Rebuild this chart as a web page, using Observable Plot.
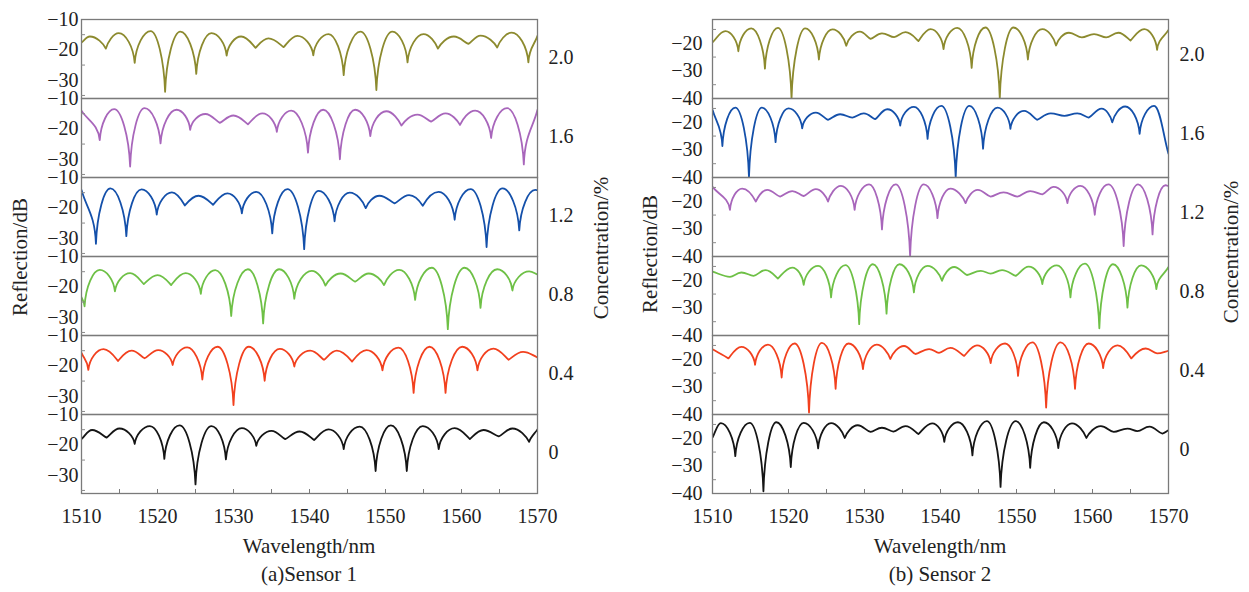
<!DOCTYPE html>
<html><head><meta charset="utf-8">
<script src="https://cdn.jsdelivr.net/npm/d3@7"></script>
<script src="https://cdn.jsdelivr.net/npm/@observablehq/plot@0.6"></script>
<style>
body{margin:0;background:#fff;}
#wrap{position:relative;width:1249px;height:592px;font-family:"Liberation Serif","DejaVu Serif","Times New Roman",serif;color:#222;overflow:hidden;}
.p{position:absolute;top:0;}
.t{position:absolute;font-size:21px;white-space:nowrap;transform:translate(-50%,-50%);line-height:1;}
.r{transform:translate(-50%,-50%) rotate(-90deg);}
</style></head>
<body><div id="wrap"></div>
<script>
// ---------- data: [wavelength nm, reflection dB] ----------
const concLabels = ["2.0", "1.6", "1.2", "0.8", "0.4", "0"];
const xMajor = [1510, 1520, 1530, 1540, 1550, 1560, 1570];
const xMinor = [1515, 1525, 1535, 1545, 1555, 1565];

// Sensor 1
const s1_20 = [[1510,-17.6],[1511.1,-15.6],[1513.2,-19.6],[1514.9,-14.5],[1517.0,-24.3],[1519.1,-13.8],[1521.0,-33.8],[1523.0,-14.0],[1525.1,-27.9],[1527.1,-14.5],[1529.1,-21.9],[1531.0,-15.6],[1532.9,-19.3],[1534.6,-16.2],[1536.6,-19.1],[1538.4,-15.4],[1540.5,-21.8],[1542.5,-14.8],[1544.5,-28.3],[1546.7,-14.0],[1548.8,-33.2],[1550.9,-14.0],[1552.9,-24.1],[1555.0,-14.8],[1556.9,-19.6],[1559.0,-15.6],[1560.9,-18.0],[1562.5,-15.3],[1564.7,-19.2],[1566.6,-14.3],[1568.8,-24.1],[1570,-15.4]];
const s1_16 = [[1510,-14.0],[1512.4,-23.7],[1514.3,-13.5],[1516.4,-32.4],[1518.3,-13.2],[1520.4,-24.8],[1522.5,-13.7],[1524.3,-20.3],[1526.3,-15.1],[1528.2,-18.0],[1530.0,-15.6],[1531.9,-18.5],[1533.8,-14.9],[1535.7,-21.0],[1537.6,-14.0],[1539.8,-27.8],[1541.8,-13.7],[1544.0,-30.0],[1546.0,-13.7],[1548.0,-22.4],[1550.1,-14.2],[1552.1,-18.9],[1554.2,-15.3],[1556.0,-17.6],[1557.9,-14.9],[1559.8,-18.7],[1561.8,-14.0],[1563.9,-23.0],[1566.0,-13.2],[1568.2,-31.7],[1570,-13.7]];
const s1_12 = [[1510,-14.1],[1511.9,-31.8],[1513.8,-13.6],[1515.9,-29.3],[1517.9,-13.9],[1519.9,-22.2],[1521.9,-14.9],[1523.6,-19.2],[1525.4,-16.0],[1527.3,-19.0],[1529.2,-15.2],[1531.1,-21.8],[1533.0,-14.7],[1535.1,-28.4],[1537.1,-13.8],[1539.3,-33.6],[1541.2,-14.4],[1543.3,-24.4],[1545.3,-15.0],[1547.4,-20.1],[1549.2,-16.0],[1551.2,-18.5],[1553.1,-15.8],[1554.9,-19.3],[1557.0,-14.7],[1559.1,-23.9],[1561.2,-13.8],[1563.3,-32.9],[1565.4,-13.6],[1567.6,-27.4],[1569.7,-14.1],[1570,-14.2]];
const s1_08 = [[1510,-23.4],[1510.4,-26.4],[1512.4,-14.4],[1514.4,-21.5],[1516.4,-15.5],[1518.2,-19.1],[1520.0,-16.1],[1521.8,-19.4],[1523.7,-15.5],[1525.7,-22.3],[1527.6,-14.5],[1529.7,-29.6],[1531.9,-14.2],[1533.9,-32.0],[1536.0,-14.2],[1538.0,-23.9],[1540.3,-14.7],[1542.1,-19.6],[1544.1,-15.6],[1546.0,-18.3],[1547.8,-15.6],[1549.8,-19.4],[1551.8,-14.4],[1553.9,-24.3],[1556.1,-13.7],[1558.2,-33.9],[1560.4,-13.7],[1562.5,-26.9],[1564.7,-14.2],[1566.7,-21.2],[1568.9,-14.9],[1570,-15.9]];
const s1_04 = [[1510,-15.7],[1510.9,-21.3],[1512.9,-14.5],[1514.8,-18.4],[1516.6,-15.0],[1518.3,-17.5],[1520.1,-14.8],[1522.0,-19.7],[1523.9,-13.9],[1525.9,-24.5],[1527.9,-13.7],[1530.0,-32.9],[1532.0,-13.7],[1534.1,-24.9],[1536.1,-14.4],[1538.0,-20.2],[1540.1,-15.0],[1541.9,-18.0],[1543.6,-15.0],[1545.6,-18.6],[1547.5,-14.8],[1549.6,-21.5],[1551.7,-14.0],[1553.7,-28.9],[1555.8,-13.7],[1557.9,-28.9],[1560.1,-13.7],[1562.1,-21.5],[1564.2,-14.3],[1566.2,-18.0],[1568.1,-15.4],[1570,-17.2]];
const s1_00 = [[1510,-18.1],[1511.4,-15.1],[1513.3,-17.6],[1515.0,-14.6],[1517.0,-19.7],[1519.0,-13.8],[1520.9,-24.6],[1522.9,-13.6],[1525.0,-33.0],[1527.1,-13.8],[1529.0,-24.8],[1531.1,-14.5],[1533.0,-20.3],[1535.0,-15.4],[1536.8,-18.1],[1538.7,-15.6],[1540.6,-18.4],[1542.5,-14.9],[1544.5,-21.4],[1546.6,-14.0],[1548.7,-28.6],[1550.7,-13.6],[1552.8,-28.6],[1554.9,-13.8],[1557.0,-21.4],[1559.1,-14.5],[1561.1,-18.1],[1562.9,-15.1],[1564.9,-17.2],[1566.7,-14.6],[1568.9,-19.0],[1570,-14.9]];

// Sensor 2
const s2_20 = [[1510,-19.7],[1511.7,-15.6],[1513.4,-22.9],[1515.1,-14.6],[1516.9,-29.2],[1518.6,-14.4],[1520.4,-40],[1522.2,-14.6],[1524.0,-25.9],[1525.8,-15.0],[1527.6,-20.9],[1529.4,-15.8],[1530.8,-18.4],[1532.3,-16.4],[1533.9,-17.8],[1535.4,-16.0],[1537.1,-19.2],[1538.7,-14.9],[1540.4,-22.1],[1542.2,-14.4],[1544.1,-28.9],[1545.9,-14.3],[1547.8,-40],[1549.6,-14.3],[1551.5,-25.9],[1553.4,-14.9],[1555.2,-20.8],[1556.9,-16.2],[1558.6,-17.9],[1560.2,-16.7],[1561.8,-17.9],[1563.4,-16.2],[1565.0,-19.0],[1566.8,-14.9],[1568.5,-22.4],[1570,-15.2]];
const s2_16 = [[1510,-15.5],[1511.3,-28.6],[1513.0,-14.7],[1514.8,-40],[1516.5,-14.7],[1518.3,-27.2],[1520.0,-15.0],[1521.8,-22.2],[1523.6,-16.5],[1525.2,-19.1],[1526.8,-17.1],[1528.4,-18.3],[1529.9,-16.8],[1531.4,-18.9],[1533.0,-15.3],[1534.7,-21.2],[1536.5,-14.4],[1538.3,-26.0],[1540.1,-14.1],[1542.0,-40],[1543.8,-14.1],[1545.6,-29.6],[1547.5,-14.7],[1549.2,-22.4],[1551.0,-15.9],[1552.7,-19.1],[1554.5,-16.8],[1556.3,-17.7],[1558.0,-16.8],[1559.5,-18.3],[1561.2,-15.1],[1562.6,-20.0],[1564.3,-14.3],[1566.2,-24.2],[1568.1,-14.1],[1570,-31.4]];
const s2_12 = [[1510,-14.8],[1512.3,-23.1],[1513.9,-15.4],[1515.7,-20.1],[1517.2,-15.9],[1518.9,-18.3],[1520.5,-16.3],[1522.0,-18.1],[1523.6,-15.6],[1525.2,-20.1],[1526.9,-14.4],[1528.7,-23.1],[1530.6,-13.9],[1532.3,-30.2],[1534.1,-13.9],[1536.0,-40],[1537.8,-13.9],[1539.6,-26.1],[1541.3,-15.4],[1543.3,-20.7],[1544.9,-15.9],[1546.6,-18.3],[1548.3,-16.8],[1550.1,-18.3],[1551.8,-16.3],[1553.4,-17.5],[1554.9,-14.8],[1556.7,-20.7],[1558.4,-14.4],[1560.3,-24.9],[1562.1,-13.9],[1564.1,-36.2],[1566.0,-13.9],[1567.9,-32.0],[1569.6,-14.2],[1570,-14.5]];
const s2_08 = [[1510,-16.9],[1512.3,-18.8],[1513.8,-17.2],[1515.4,-18.4],[1517.0,-16.3],[1518.6,-19.4],[1520.5,-15.4],[1522.0,-21.7],[1523.9,-14.8],[1525.6,-26.2],[1527.5,-14.5],[1529.3,-35.9],[1531.1,-14.2],[1532.9,-32.1],[1534.6,-14.2],[1536.5,-24.4],[1538.3,-14.8],[1540.2,-20.2],[1541.8,-15.2],[1543.5,-18.1],[1545.3,-16.6],[1546.6,-17.6],[1548.1,-16.3],[1549.9,-18.4],[1551.6,-15.1],[1553.4,-21.4],[1555.3,-14.6],[1557.1,-26.2],[1559.0,-14.0],[1560.9,-37.4],[1562.7,-14.2],[1564.6,-29.9],[1566.4,-14.6],[1568.4,-23.2],[1570,-15.2]];
const s2_04 = [[1510,-16.4],[1512.1,-19.7],[1513.8,-15.5],[1515.6,-22.0],[1517.3,-14.7],[1519.1,-26.6],[1520.8,-14.3],[1522.7,-39.3],[1524.4,-14.1],[1526.2,-30.7],[1527.9,-14.3],[1529.8,-23.6],[1531.6,-14.7],[1533.4,-19.9],[1535.2,-15.2],[1536.7,-18.1],[1538.5,-16.3],[1539.8,-17.7],[1541.3,-15.9],[1543.1,-18.8],[1544.8,-15.0],[1546.6,-21.4],[1548.5,-14.3],[1550.2,-26.0],[1552.1,-13.9],[1553.9,-37.5],[1555.8,-13.9],[1557.7,-30.7],[1559.5,-14.3],[1561.4,-23.2],[1563.3,-15.0],[1565.1,-19.7],[1567.0,-16.1],[1568.5,-17.9],[1570,-16.9]];
const s2_00 = [[1510,-19.7],[1511.1,-14.5],[1513.0,-26.5],[1514.9,-14.4],[1516.7,-39.2],[1518.4,-14.2],[1520.3,-30.4],[1522.0,-14.4],[1523.9,-23.7],[1525.6,-14.5],[1527.4,-19.9],[1529.1,-15.3],[1530.8,-17.7],[1532.3,-16.2],[1533.8,-17.6],[1535.4,-15.6],[1537.1,-18.5],[1538.9,-14.6],[1540.5,-21.3],[1542.3,-14.2],[1544.2,-26.2],[1546.1,-13.8],[1547.9,-37.6],[1549.9,-13.8],[1551.8,-30.7],[1553.6,-14.2],[1555.5,-23.6],[1557.3,-14.6],[1559.2,-19.9],[1561.1,-15.6],[1562.8,-17.7],[1564.6,-16.5],[1565.9,-17.4],[1567.5,-15.8],[1569.2,-18.3],[1570,-17.1]];

const sensor1 = [s1_20, s1_16, s1_12, s1_08, s1_04, s1_00];
const sensor2 = [s2_20, s2_16, s2_12, s2_08, s2_04, s2_00];

// ---------- styles ----------
const colors1 = ["#8c8a2e", "#a866bb", "#1450aa", "#6ec046", "#f2401e", "#151515"];
const colors2 = ["#8c8a2e", "#1450aa", "#a866bb", "#6ec046", "#f2401e", "#151515"];
const FONT = "'Liberation Serif', 'DejaVu Serif', 'Times New Roman', serif";

// curve: rounded maxima, cusp-like minima (interference-spectrum look)
function cuspCurve(ctx) {
  let pts = [];
  return {
    areaStart() {}, areaEnd() {},
    lineStart() { pts = []; },
    point(x, y) { pts.push([+x, +y]); },
    lineEnd() {
      const n = pts.length;
      if (!n) return;
      ctx.moveTo(pts[0][0], pts[0][1]);
      if (n === 1) return;
      const kind = pts.map((p, i) => {
        if (i === 0 || i === n - 1) return "end";
        return (p[1] > pts[i - 1][1] && p[1] > pts[i + 1][1]) ? "dip" : "peak";
      });
      const depth = pts.map((p, i) => kind[i] === "dip" ? p[1] - (pts[i - 1][1] + pts[i + 1][1]) / 2 : 0);
      const ctrl = (i, j) => {
        const [xi, yi] = pts[i], [xj, yj] = pts[j];
        const dx = xj - xi, dy = yj - yi;
        if (kind[i] === "end") return [xi + dx / 3, yi + dy / 3];
        if (kind[i] === "peak") return [xi + 0.42 * dx, yi];
        const f = Math.max(0, Math.min(1, (depth[i] - 3) / 14));
        return [xi + (0.38 - 0.3 * f) * dx, yi + 0.55 * f * dy];
      };
      for (let i = 0; i < n - 1; i++) {
        const c1 = ctrl(i, i + 1), c2 = ctrl(i + 1, i);
        ctx.bezierCurveTo(c1[0], c1[1], c2[0], c2[1], pts[i + 1][0], pts[i + 1][1]);
      }
    }
  };
}

function panel(series, colors, yDomain, yMajor, yMinor, yPad, fyDy, width, mL, mR) {
  const rows = [];
  series.forEach((pts, k) => pts.forEach(([nm, db]) => rows.push({conc: concLabels[k], nm, db})));
  return Plot.plot({
    width, height: 540, marginTop: 16, marginBottom: 45, marginLeft: mL, marginRight: mR,
    style: {fontFamily: FONT, fontSize: "20px", color: "#222", background: "transparent", overflow: "visible"},
    x: {domain: [1510, 1570]},
    y: {domain: yDomain},
    fy: {domain: concLabels, padding: 0},
    color: {domain: concLabels, range: colors},
    marks: [
      Plot.line(rows, {x: "nm", y: "db", fy: "conc", stroke: "conc", strokeWidth: 1.8, curve: cuspCurve, clip: true}),
      Plot.frame({stroke: "#7a7a7a", strokeWidth: 1.3}),
      Plot.axisX({ticks: xMajor, tickSize: 0, tickPadding: 15, tickFormat: d => String(d), label: null}),
      Plot.axisX({ticks: xMinor.concat(xMajor), tickSize: -4, tickFormat: () => "", label: null, stroke: "#7a7a7a"}),
      Plot.axisY({ticks: yMajor, tickSize: 0, tickPadding: yPad, label: null}),
      Plot.axisY({ticks: yMinor, tickSize: -4, tickFormat: () => "", label: null, stroke: "#8a8a8a"}),
      Plot.axisFy({anchor: "right", tickSize: 0, tickPadding: 11, label: null, dy: fyDy})
    ]
  });
}

const wrap = document.getElementById("wrap");
const p1 = panel(sensor1, colors1, [-36, -10], [-10, -20, -30], [-15, -25, -35], 3, -1, 620, 81, 83);
const p2 = panel(sensor2, colors2, [-40, -11.4], [-20, -30, -40], [-15, -25, -35], 10, -4, 629, 92, 81);
p1.classList.add("p"); p1.style.left = "0px";
p2.classList.add("p"); p2.style.left = "620px";
wrap.appendChild(p1); wrap.appendChild(p2);

function label(text, x, y, rot) {
  const d = document.createElement("div");
  d.className = "t" + (rot ? " r" : "");
  d.textContent = text;
  d.style.fontFamily = FONT;
  d.style.left = x + "px"; d.style.top = y + "px";
  wrap.appendChild(d);
}
label("Reflection/dB", 20, 257, true);
label("Concentration/%", 601, 248, true);
label("Wavelength/nm", 309, 546, false);
label("(a)Sensor 1", 309, 574, false);
label("Reflection/dB", 650, 254, true);
label("Concentration/%", 1231, 252, true);
label("Wavelength/nm", 940, 546, false);
label("(b) Sensor 2", 940, 574, false);
</script>
</body></html>
